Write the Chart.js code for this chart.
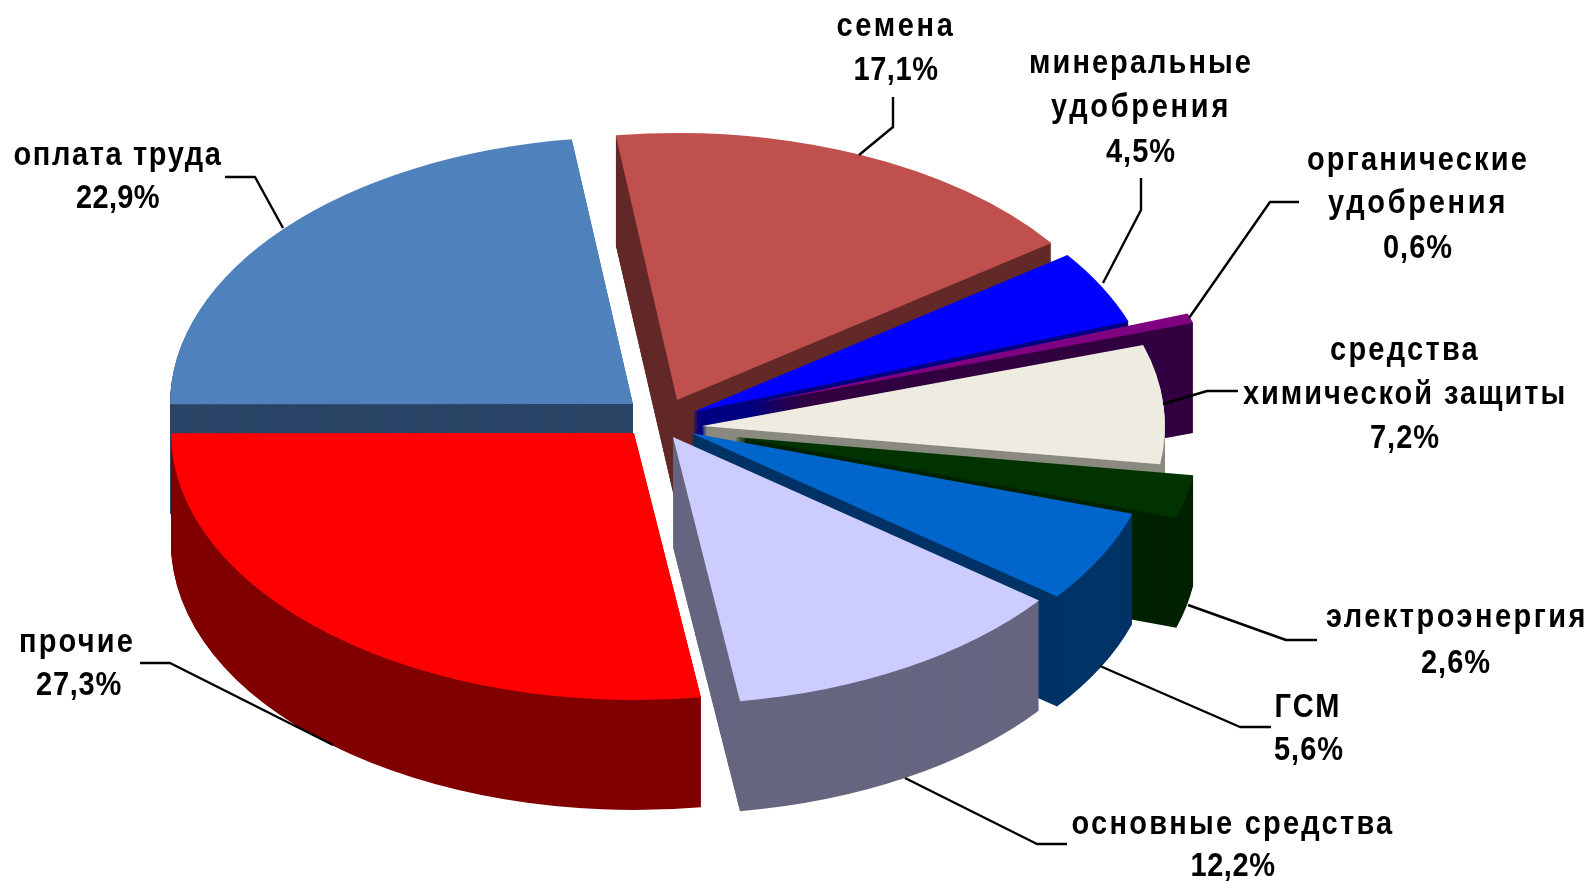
<!DOCTYPE html>
<html lang="ru">
<head>
<meta charset="utf-8">
<style>html,body{margin:0;padding:0;background:#fff;overflow:hidden}canvas{display:block}</style>
<script src="https://cdn.jsdelivr.net/npm/chart.js@4"></script>
</head>
<body>
<canvas id="c" width="1594" height="881"></canvas>
<script>
const categories = ['семена','минеральные\nудобрения','органические\nудобрения','средства\nхимической защиты','электроэнергия','ГСМ','основные средства','прочие','оплата труда'];
const values = [17.1, 4.5, 0.6, 7.2, 2.6, 5.6, 12.2, 27.3, 22.9];
const topColors = ['#c0504d','#0000ff','#7f0080','#eeece1','#003300','#0066cc','#ccccff','#ff0000','#4f81bd'];
const wallColors = ['#632a28','#000080','#320040','#8a8a80','#002200','#003366','#666680','#800000','#2a4566'];
// apex of each exploded slice, relative to the pie centre
const shiftX = [-13, 3, 62, 12, 45, 1, -17, -56, -57];
const shiftY = [-16, -4, -12, 10, 21, 17, 21, 17, -12];
const paintOrder = [8, 0, 1, 2, 3, 4, 5, 6, 7];
const lineWidths = [[119,85],[224,180,70],[222,180,70],[150,324,70],[262,70],[67,70],[323,85],[116,86],[209,84]];
const lineCentres = [[896,896],[1141,1141,1141],[1418,1418,1418],[1405,1405,1405],[1457,1456],[1308,1309],[1233,1233],[77,79],[118,118]];
const lineBases = [[36,80],[73,117,162],[170,213,258],[360,404,448],[627,673],[717,760],[834,876],[652,695],[165,208]];
const leaders = [
  [[893,97],[893,127],[859,155]],
  [[1141,178],[1141,210],[1103,283]],
  [[1299,202],[1270,202],[1189,318]],
  [[1238,391],[1207,391],[1163,404]],
  [[1188,605],[1286,640],[1317,640]],
  [[1100,666],[1240,727],[1271,727]],
  [[905,778],[1037,844],[1067,844]],
  [[140,663],[170,663],[333,745]],
  [[225,177],[255,177],[283,228]]
];
const centreX = 690, centreY = 416, radiusX = 463, radiusY = 267, depth = 110, startAngle = -7.6;
const textStretch = 1.12;

const pie3d = {
  id: 'pie3d',
  beforeDatasetsDraw(chart) {
    const ctx = chart.ctx, arcs = chart.getDatasetMeta(0).data;
    const paint = (arc, i, dy) => {
      const sx = radiusX / arc.outerRadius, sy = radiusY / arc.outerRadius;
      ctx.save();
      ctx.translate(centreX + shiftX[i], centreY + shiftY[i] + dy);
      ctx.scale(sx, sy);
      ctx.translate(-arc.x, -arc.y);
      arc.draw(ctx);
      ctx.restore();
    };
    paintOrder.forEach(i => {
      const arc = arcs[i], base = arc.options;
      arc.options = Object.assign(Object.create(base), {backgroundColor: wallColors[i], borderWidth: 0});
      for (let d = depth; d > 0; d--) paint(arc, i, d);
      arc.options = base;
      paint(arc, i, 0);
    });
    return false;
  },
  afterDraw(chart) {
    const ctx = chart.ctx;
    ctx.save();
    ctx.strokeStyle = '#000'; ctx.lineWidth = 2.4; ctx.lineJoin = 'round';
    leaders.forEach(pts => {
      ctx.beginPath();
      pts.forEach((p, k) => k ? ctx.lineTo(p[0], p[1]) : ctx.moveTo(p[0], p[1]));
      ctx.stroke();
    });
    ctx.fillStyle = '#000'; ctx.textAlign = 'left'; ctx.textBaseline = 'alphabetic';
    ctx.font = 'bold 29px "Liberation Sans"';
    categories.forEach((cat, i) => {
      const lines = cat.split('\n').concat(values[i].toFixed(1).replace('.', ',') + '%');
      lines.forEach((txt, k) => {
        ctx.letterSpacing = '0px';
        const w = ctx.measureText(txt).width, target = lineWidths[i][k];
        ctx.letterSpacing = ((target - w) / txt.length).toFixed(2) + 'px';
        ctx.save();
        ctx.translate(lineCentres[i][k] - target / 2, lineBases[i][k]);
        ctx.scale(1, textStretch);
        ctx.fillText(txt, 0, 0);
        ctx.restore();
      });
    });
    ctx.restore();
  }
};

new Chart(document.getElementById('c'), {
  type: 'pie',
  data: { labels: categories, datasets: [{ data: values, backgroundColor: topColors, borderWidth: 0 }] },
  options: {
    responsive: false, animation: false, rotation: startAngle,
    layout: { padding: 0 },
    plugins: { legend: { display: false }, tooltip: { enabled: false } }
  },
  plugins: [pie3d]
});
</script>
</body>
</html>
